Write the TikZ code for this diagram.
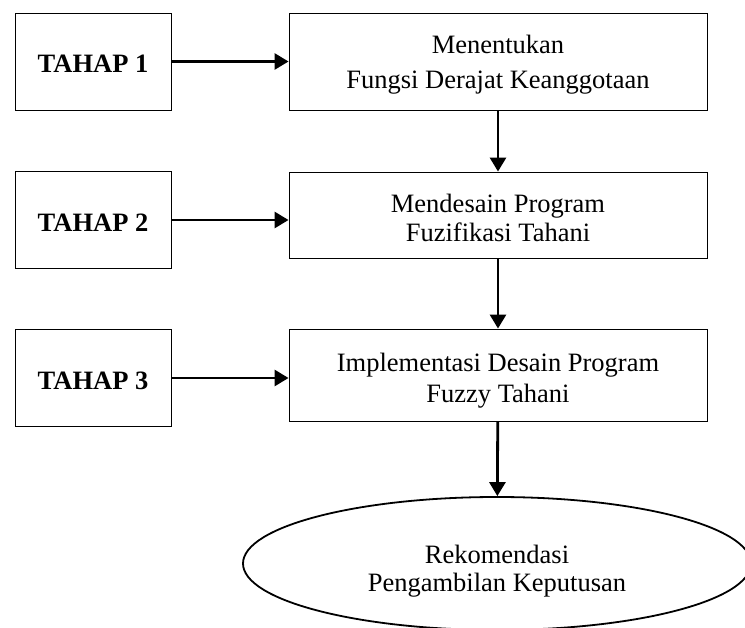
\documentclass[tikz,border=0pt]{standalone}
\usepackage{fontspec}
\setmainfont{Liberation Serif}
\usetikzlibrary{arrows.meta,positioning,shapes.geometric}
\newcommand{\toppad}[1]{\rule{0pt}{#1}}
\tikzset{
  tahapbox/.style={draw, line width=0.9pt, minimum width=156pt, minimum height=97pt, inner sep=0pt, font=\fontsize{26.5}{31}\selectfont\bfseries},
  stepbox/.style={draw, line width=0.9pt, minimum width=418pt, inner sep=0pt, align=center, font=\fontsize{26.5}{32}\selectfont},
  endoval/.style={draw, ellipse, line width=1.8pt, minimum width=508pt, minimum height=133pt, inner sep=0pt, align=center, font=\fontsize{26.5}{28}\selectfont},
  flowarrow/.style={-{Triangle[length=14pt,width=16pt]}, line width=2.8pt}
}

\begin{document}
\begin{tikzpicture}[x=1pt, y=-1pt]
  \useasboundingbox (0,0) rectangle (745,628);
  % tahap column
  \node[tahapbox] (tahap1) at (93,61.5) {\toppad{22.5pt}TAHAP 1};
  \node[tahapbox] (tahap2) at (93,220) {\toppad{22.5pt}TAHAP 2};
  \node[tahapbox] (tahap3) at (93,378) {\toppad{22.5pt}TAHAP 3};
  % process column
  \node[stepbox, minimum height=97pt] (fungsi) at (498,61.5) {\toppad{24pt}Menentukan\\[3pt]Fungsi Derajat Keanggotaan};
  \node[stepbox, minimum height=86pt] (desain) at (498,215) {\toppad{25pt}Mendesain Program\\[-3pt]Fuzifikasi Tahani};
  \node[stepbox, minimum height=92pt] (implementasi) at (498,375) {\toppad{29pt}Implementasi Desain Program\\[-1pt]Fuzzy Tahani};
  \node[endoval] (rekomendasi) at (497,563.5) {\toppad{33pt}Rekomendasi\\Pengambilan Keputusan};

  \draw[flowarrow] (tahap1.east) -- (tahap1.east -| fungsi.west);
  \draw[flowarrow] (tahap2.east) -- (tahap2.east -| desain.west);
  \draw[flowarrow] (tahap3.east) -- (tahap3.east -| implementasi.west);
  \draw[flowarrow] (fungsi) -- (desain);
  \draw[flowarrow] (desain) -- (implementasi);
  \draw[flowarrow] (implementasi) -- (rekomendasi);
\end{tikzpicture}
\end{document}
